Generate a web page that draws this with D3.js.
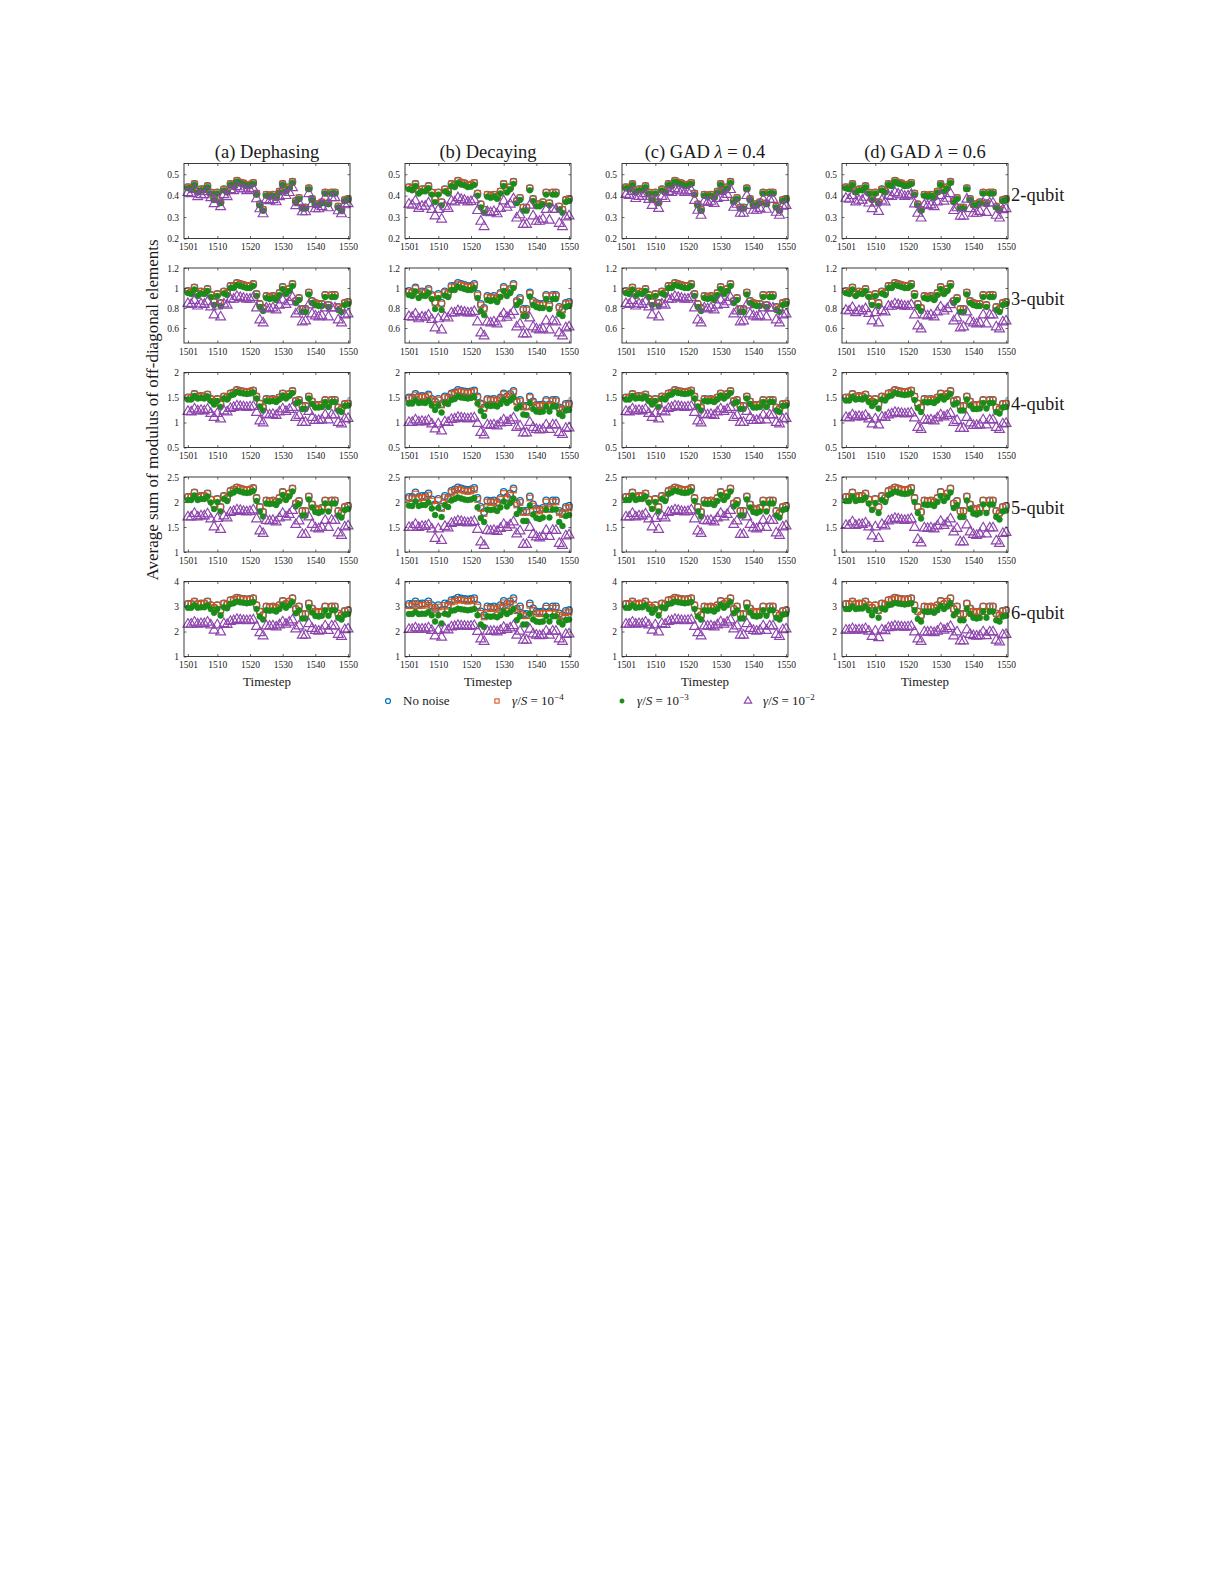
<!DOCTYPE html>
<html><head><meta charset="utf-8">
<script src="https://cdn.jsdelivr.net/npm/d3@7"></script>
<style>
body{margin:0;background:#fff}
svg{display:block}
text{font-family:"Liberation Serif","Times New Roman",serif;fill:#1a1a1a}
</style>
</head><body>
<svg id="chart" width="1225" height="1585"></svg>
<script>
// ---------------- DATA ----------------
const timesteps = [1501,1502,1503,1504,1505,1506,1507,1508,1509,1510,1511,1512,1513,1514,1515,1516,1517,1518,1519,1520,1521,1522,1523,1524,1525,1526,1527,1528,1529,1530,1531,1532,1533,1534,1535,1536,1537,1538,1539,1540,1541,1542,1543,1544,1545,1546,1547,1548,1549,1550];
const xTicks = [1501,1510,1520,1530,1540,1550];
const columnTitles = ["(a) Dephasing","(b) Decaying","(c) GAD λ = 0.4","(d) GAD λ = 0.6"];
const rowLabels = ["2-qubit","3-qubit","4-qubit","5-qubit","6-qubit"];
const yLimits = [[0.2,0.55],[0.45,1.2],[0.5,2],[1,2.5],[1,4]];
const yTicks = [[0.2,0.3,0.4,0.5],[0.6,0.8,1,1.2],[0.5,1,1.5,2],[1,1.5,2,2.5],[1,2,3,4]];
const seriesNames = ["No noise","γ/S = 10","γ/S = 10","γ/S = 10"];
const seriesExponents = ["","−4","−3","−2"];
const xLabel = "Timestep";
const yLabel = "Average sum of modulus of off-diagonal elements";

// No noise (identical for all channels)
const nn_2q = [0.440,0.435,0.455,0.420,0.430,0.430,0.445,0.415,0.385,0.415,0.370,0.430,0.420,0.455,0.450,0.470,0.462,0.458,0.450,0.452,0.460,0.410,0.360,0.335,0.405,0.400,0.405,0.395,0.420,0.455,0.425,0.440,0.465,0.375,0.390,0.345,0.345,0.435,0.385,0.360,0.360,0.370,0.415,0.365,0.415,0.415,0.350,0.335,0.380,0.385];
const nn_3q = [0.97,0.96,1.005,0.94,0.965,0.96,0.99,0.93,0.86,0.94,0.85,0.965,0.95,1.02,1.02,1.05,1.04,1.03,1.02,1.02,1.04,0.94,0.84,0.80,0.92,0.91,0.92,0.90,0.95,1.01,0.96,0.99,1.04,0.87,0.90,0.79,0.79,0.955,0.87,0.85,0.84,0.84,0.93,0.83,0.93,0.93,0.81,0.79,0.85,0.86];
const nn_4q = [1.50,1.50,1.57,1.52,1.53,1.52,1.56,1.47,1.42,1.47,1.37,1.52,1.50,1.58,1.60,1.65,1.63,1.62,1.61,1.62,1.64,1.52,1.38,1.30,1.47,1.46,1.47,1.45,1.50,1.58,1.52,1.57,1.63,1.43,1.45,1.33,1.33,1.52,1.42,1.35,1.35,1.36,1.45,1.36,1.45,1.45,1.30,1.27,1.37,1.38];
const nn_5q = [2.10,2.10,2.19,2.10,2.12,2.12,2.17,2.05,1.95,2.06,1.90,2.12,2.08,2.22,2.25,2.29,2.27,2.25,2.24,2.25,2.28,2.08,1.90,1.80,2.03,2.02,2.03,2.00,2.08,2.20,2.10,2.17,2.27,1.97,2.02,1.82,1.82,2.11,1.95,1.87,1.85,1.88,2.03,1.88,2.03,2.03,1.82,1.78,1.90,1.92];
const nn_6q = [3.10,3.10,3.20,3.10,3.12,3.12,3.20,3.05,2.95,3.05,2.85,3.12,3.08,3.25,3.28,3.35,3.32,3.30,3.28,3.30,3.33,3.05,2.80,2.65,3.00,2.98,3.00,2.95,3.05,3.22,3.10,3.20,3.33,2.90,3.00,2.70,2.70,3.12,2.92,2.80,2.78,2.80,3.00,2.80,3.00,3.00,2.72,2.65,2.82,2.85];

// (a) Dephasing
const deph_2q_e3 = [0.435,0.430,0.450,0.415,0.425,0.425,0.440,0.410,0.380,0.410,0.365,0.425,0.415,0.450,0.445,0.465,0.457,0.453,0.445,0.447,0.455,0.405,0.355,0.330,0.400,0.395,0.400,0.390,0.415,0.450,0.420,0.435,0.460,0.370,0.385,0.340,0.340,0.430,0.380,0.355,0.355,0.365,0.410,0.360,0.410,0.410,0.345,0.330,0.375,0.380];
const deph_2q_e2 = [0.414,0.409,0.428,0.395,0.404,0.404,0.418,0.390,0.362,0.390,0.348,0.404,0.395,0.428,0.423,0.442,0.434,0.431,0.423,0.425,0.432,0.385,0.338,0.315,0.381,0.376,0.381,0.371,0.395,0.428,0.400,0.414,0.437,0.353,0.367,0.324,0.324,0.409,0.362,0.338,0.338,0.348,0.390,0.343,0.390,0.390,0.329,0.315,0.357,0.362];
const deph_3q_e3 = [0.95,0.94,0.985,0.92,0.945,0.94,0.97,0.91,0.83,0.92,0.82,0.945,0.93,1.00,1.00,1.03,1.02,1.01,1.00,1.00,1.02,0.92,0.81,0.77,0.90,0.89,0.90,0.88,0.93,0.99,0.94,0.97,1.02,0.85,0.88,0.76,0.76,0.935,0.85,0.83,0.82,0.82,0.91,0.81,0.91,0.91,0.78,0.76,0.83,0.84];
const deph_3q_e2 = [0.844,0.835,0.874,0.818,0.840,0.835,0.861,0.809,0.73,0.818,0.71,0.840,0.827,0.887,0.887,0.914,0.905,0.896,0.887,0.887,0.905,0.80,0.68,0.65,0.80,0.79,0.80,0.78,0.827,0.879,0.835,0.861,0.905,0.74,0.77,0.66,0.67,0.83,0.74,0.72,0.71,0.72,0.80,0.71,0.80,0.80,0.68,0.65,0.73,0.74];
const deph_4q_e3 = [1.46,1.46,1.53,1.48,1.49,1.48,1.52,1.43,1.36,1.43,1.31,1.48,1.46,1.54,1.56,1.61,1.59,1.58,1.57,1.58,1.60,1.48,1.32,1.24,1.43,1.42,1.43,1.41,1.46,1.54,1.48,1.53,1.59,1.38,1.41,1.27,1.27,1.48,1.37,1.30,1.30,1.31,1.41,1.31,1.41,1.41,1.24,1.21,1.33,1.34];
const deph_4q_e2 = [1.22,1.21,1.27,1.23,1.24,1.23,1.26,1.18,1.10,1.18,1.07,1.23,1.21,1.28,1.30,1.33,1.32,1.31,1.30,1.31,1.32,1.20,1.03,0.99,1.16,1.15,1.16,1.14,1.21,1.27,1.22,1.26,1.30,1.10,1.14,1.00,1.00,1.22,1.10,1.04,1.04,1.05,1.15,1.05,1.15,1.15,1.00,0.97,1.07,1.08];
const deph_5q_e3 = [2.04,2.04,2.13,2.04,2.06,2.06,2.11,1.99,1.86,2.00,1.81,2.06,2.02,2.16,2.19,2.23,2.21,2.19,2.18,2.19,2.22,2.02,1.81,1.71,1.97,1.96,1.97,1.94,2.02,2.14,2.04,2.11,2.21,1.91,1.96,1.73,1.73,2.05,1.89,1.80,1.78,1.81,1.97,1.81,1.97,1.97,1.73,1.69,1.84,1.86];
const deph_5q_e2 = [1.70,1.70,1.77,1.70,1.72,1.72,1.76,1.66,1.50,1.67,1.45,1.72,1.68,1.79,1.81,1.84,1.83,1.81,1.80,1.81,1.84,1.66,1.42,1.37,1.63,1.62,1.63,1.60,1.68,1.77,1.70,1.75,1.83,1.55,1.62,1.35,1.35,1.70,1.55,1.48,1.46,1.49,1.63,1.49,1.63,1.63,1.38,1.33,1.50,1.52];
const deph_6q_e3 = [2.95,2.95,3.05,2.95,2.97,2.97,3.05,2.90,2.75,2.90,2.64,2.97,2.93,3.10,3.13,3.20,3.17,3.15,3.13,3.15,3.18,2.90,2.60,2.48,2.85,2.83,2.85,2.80,2.90,3.07,2.95,3.05,3.18,2.73,2.85,2.52,2.52,2.97,2.76,2.62,2.60,2.63,2.85,2.63,2.85,2.85,2.55,2.48,2.67,2.70];
const deph_6q_e2 = [2.29,2.29,2.37,2.29,2.31,2.31,2.37,2.26,2.05,2.26,1.98,2.31,2.28,2.40,2.43,2.48,2.46,2.44,2.43,2.44,2.46,2.20,1.95,1.82,2.22,2.21,2.22,2.18,2.26,2.38,2.29,2.37,2.46,2.10,2.22,1.85,1.85,2.31,2.12,2.04,2.01,2.04,2.22,2.04,2.22,2.22,1.88,1.80,2.07,2.10];

// (b) Decaying
const dec_2q_e3 = [0.430,0.425,0.445,0.410,0.420,0.420,0.435,0.405,0.370,0.405,0.355,0.420,0.410,0.445,0.440,0.460,0.452,0.448,0.440,0.442,0.450,0.400,0.345,0.320,0.395,0.390,0.395,0.385,0.410,0.445,0.415,0.430,0.455,0.365,0.380,0.330,0.330,0.425,0.375,0.350,0.350,0.360,0.405,0.355,0.405,0.405,0.335,0.320,0.370,0.375];
const dec_2q_e2 = [0.360,0.355,0.375,0.340,0.350,0.350,0.365,0.335,0.305,0.335,0.290,0.350,0.340,0.375,0.370,0.390,0.382,0.378,0.370,0.372,0.380,0.330,0.280,0.255,0.325,0.320,0.325,0.315,0.340,0.375,0.345,0.360,0.385,0.295,0.310,0.265,0.265,0.355,0.305,0.280,0.280,0.290,0.335,0.285,0.335,0.335,0.270,0.255,0.300,0.305];
const dec_3q_e4 = [0.96,0.95,0.995,0.93,0.955,0.95,0.98,0.92,0.85,0.93,0.84,0.955,0.94,1.01,1.01,1.04,1.03,1.02,1.01,1.01,1.03,0.93,0.83,0.79,0.91,0.90,0.91,0.89,0.94,1.00,0.95,0.98,1.03,0.86,0.89,0.78,0.78,0.945,0.86,0.84,0.83,0.83,0.92,0.82,0.92,0.92,0.80,0.78,0.84,0.85];
const dec_3q_e3 = [0.93,0.92,0.965,0.90,0.925,0.92,0.95,0.89,0.79,0.90,0.78,0.925,0.91,0.98,0.98,1.01,1.00,0.99,0.98,0.98,1.00,0.90,0.77,0.73,0.88,0.87,0.88,0.86,0.91,0.97,0.92,0.95,1.00,0.83,0.86,0.72,0.72,0.915,0.83,0.81,0.80,0.80,0.89,0.79,0.89,0.89,0.74,0.72,0.81,0.82];
const dec_3q_e2 = [0.713,0.706,0.739,0.691,0.709,0.706,0.728,0.684,0.60,0.691,0.58,0.709,0.698,0.75,0.75,0.772,0.764,0.757,0.75,0.75,0.764,0.66,0.55,0.52,0.66,0.65,0.66,0.64,0.698,0.742,0.706,0.728,0.764,0.61,0.64,0.54,0.54,0.70,0.61,0.59,0.58,0.59,0.67,0.58,0.67,0.66,0.55,0.52,0.60,0.61];
const dec_4q_e4 = [1.48,1.48,1.55,1.50,1.51,1.50,1.54,1.45,1.40,1.45,1.35,1.50,1.48,1.56,1.58,1.63,1.61,1.60,1.59,1.60,1.62,1.50,1.36,1.28,1.45,1.44,1.45,1.43,1.48,1.56,1.50,1.55,1.61,1.41,1.43,1.31,1.31,1.50,1.40,1.33,1.33,1.34,1.43,1.34,1.43,1.43,1.28,1.25,1.35,1.36];
const dec_4q_e3 = [1.38,1.38,1.44,1.39,1.40,1.39,1.43,1.34,1.25,1.34,1.20,1.39,1.37,1.45,1.47,1.52,1.50,1.49,1.48,1.49,1.51,1.38,1.23,1.13,1.34,1.33,1.34,1.32,1.37,1.45,1.39,1.44,1.50,1.28,1.32,1.16,1.15,1.39,1.27,1.22,1.21,1.22,1.32,1.22,1.32,1.32,1.17,1.13,1.24,1.25];
const dec_4q_e2 = [1.00,1.00,1.05,1.01,1.02,1.01,1.04,0.97,0.87,0.97,0.83,1.01,1.00,1.06,1.07,1.10,1.09,1.08,1.07,1.08,1.09,0.98,0.80,0.75,0.95,0.94,0.95,0.93,0.99,1.05,1.00,1.04,1.09,0.90,0.93,0.79,0.79,1.00,0.90,0.86,0.85,0.86,0.95,0.86,0.95,0.95,0.80,0.76,0.88,0.89];
const dec_5q_e4 = [2.07,2.07,2.16,2.07,2.09,2.09,2.14,2.02,1.92,2.03,1.87,2.09,2.05,2.19,2.22,2.26,2.24,2.22,2.21,2.22,2.25,2.05,1.87,1.77,2.00,1.99,2.00,1.97,2.05,2.17,2.07,2.14,2.24,1.94,1.99,1.79,1.79,2.08,1.92,1.84,1.82,1.85,2.00,1.85,2.00,2.00,1.79,1.75,1.87,1.89];
const dec_5q_e3 = [1.93,1.92,2.01,1.92,1.94,1.94,1.99,1.87,1.74,1.88,1.70,1.94,1.90,2.03,2.06,2.09,2.07,2.05,2.04,2.05,2.08,1.89,1.68,1.60,1.85,1.84,1.85,1.82,1.89,2.01,1.91,1.98,2.07,1.76,1.84,1.62,1.62,1.93,1.75,1.68,1.66,1.69,1.85,1.69,1.85,1.85,1.60,1.52,1.72,1.74];
const dec_5q_e2 = [1.49,1.49,1.55,1.49,1.51,1.51,1.54,1.46,1.27,1.46,1.23,1.51,1.48,1.57,1.59,1.62,1.61,1.59,1.58,1.59,1.61,1.45,1.20,1.13,1.43,1.42,1.43,1.41,1.47,1.55,1.49,1.54,1.60,1.36,1.42,1.15,1.15,1.49,1.35,1.30,1.28,1.31,1.43,1.31,1.43,1.43,1.17,1.13,1.32,1.34];
const dec_6q_e4 = [3.03,3.03,3.13,3.03,3.05,3.05,3.13,2.98,2.88,2.98,2.78,3.05,3.01,3.18,3.21,3.28,3.25,3.23,3.21,3.23,3.26,2.98,2.73,2.58,2.93,2.91,2.93,2.88,2.98,3.15,3.03,3.13,3.26,2.83,2.93,2.63,2.63,3.05,2.85,2.73,2.71,2.73,2.93,2.73,2.93,2.93,2.65,2.58,2.75,2.78];
const dec_6q_e3 = [2.70,2.70,2.78,2.70,2.71,2.71,2.78,2.65,2.40,2.65,2.32,2.71,2.68,2.83,2.85,2.91,2.89,2.87,2.85,2.87,2.90,2.65,2.28,2.18,2.61,2.59,2.61,2.57,2.65,2.80,2.70,2.78,2.90,2.45,2.61,2.28,2.28,2.71,2.48,2.40,2.38,2.40,2.61,2.40,2.61,2.61,2.38,2.28,2.45,2.48];
const dec_6q_e2 = [2.08,2.08,2.14,2.08,2.09,2.09,2.14,2.04,1.82,2.04,1.77,2.09,2.06,2.18,2.20,2.24,2.22,2.21,2.20,2.21,2.23,2.00,1.70,1.60,2.01,2.00,2.01,1.98,2.04,2.16,2.08,2.14,2.23,1.85,2.01,1.65,1.65,2.09,1.90,1.85,1.83,1.85,2.01,1.85,2.01,2.01,1.70,1.60,1.88,1.90];

// (c) GAD lambda = 0.4 (2-qubit triangles differ; other rows read the same as dephasing)
const gad4_2q_e2 = [0.405,0.400,0.419,0.386,0.396,0.396,0.409,0.382,0.354,0.382,0.340,0.396,0.386,0.419,0.414,0.432,0.425,0.421,0.414,0.416,0.423,0.377,0.331,0.308,0.373,0.368,0.373,0.363,0.386,0.419,0.391,0.405,0.428,0.345,0.359,0.317,0.317,0.400,0.354,0.331,0.331,0.340,0.382,0.336,0.382,0.382,0.322,0.308,0.350,0.354];

// (d) GAD lambda = 0.6
const gad6_2q_e2 = [0.387,0.383,0.400,0.370,0.378,0.378,0.392,0.365,0.339,0.365,0.326,0.378,0.370,0.400,0.396,0.414,0.407,0.403,0.396,0.398,0.405,0.361,0.317,0.295,0.356,0.352,0.356,0.348,0.370,0.400,0.374,0.387,0.409,0.330,0.343,0.304,0.304,0.383,0.339,0.317,0.317,0.326,0.365,0.321,0.365,0.365,0.308,0.295,0.334,0.339];
const gad6_3q_e2 = [0.776,0.768,0.804,0.752,0.772,0.768,0.792,0.744,0.67,0.752,0.65,0.772,0.76,0.816,0.816,0.84,0.832,0.824,0.816,0.816,0.832,0.73,0.62,0.59,0.73,0.72,0.73,0.71,0.76,0.808,0.768,0.792,0.832,0.67,0.70,0.60,0.61,0.76,0.67,0.65,0.64,0.65,0.73,0.64,0.73,0.73,0.61,0.59,0.66,0.67];
const gad6_4q_e3 = [1.44,1.44,1.51,1.46,1.47,1.46,1.50,1.41,1.33,1.41,1.28,1.46,1.44,1.52,1.54,1.59,1.57,1.56,1.55,1.56,1.58,1.45,1.29,1.21,1.41,1.40,1.41,1.39,1.44,1.52,1.46,1.51,1.57,1.36,1.39,1.24,1.24,1.46,1.34,1.27,1.27,1.28,1.39,1.28,1.39,1.39,1.21,1.18,1.30,1.31];
const gad6_4q_e2 = [1.10,1.09,1.15,1.11,1.12,1.11,1.14,1.07,0.97,1.07,0.95,1.11,1.10,1.15,1.17,1.20,1.19,1.18,1.17,1.18,1.19,1.09,0.90,0.86,1.05,1.04,1.05,1.03,1.09,1.15,1.11,1.14,1.18,1.00,1.04,0.88,0.88,1.10,0.99,0.94,0.94,0.95,1.05,0.95,1.05,1.05,0.90,0.86,0.97,0.98];
const gad6_5q_e3 = [2.02,2.02,2.11,2.02,2.04,2.04,2.09,1.97,1.84,1.98,1.78,2.04,2.00,2.14,2.17,2.21,2.19,2.17,2.16,2.17,2.20,2.00,1.78,1.67,1.95,1.94,1.95,1.92,2.00,2.12,2.02,2.09,2.19,1.88,1.94,1.70,1.70,2.03,1.86,1.77,1.75,1.78,1.95,1.78,1.95,1.95,1.70,1.65,1.81,1.83];
const gad6_5q_e2 = [1.53,1.53,1.60,1.53,1.55,1.55,1.58,1.50,1.32,1.50,1.27,1.55,1.52,1.62,1.64,1.67,1.66,1.64,1.63,1.64,1.66,1.49,1.25,1.18,1.48,1.47,1.48,1.46,1.52,1.61,1.53,1.58,1.66,1.40,1.47,1.20,1.20,1.54,1.40,1.35,1.33,1.36,1.48,1.36,1.48,1.48,1.22,1.17,1.37,1.39];
const gad6_6q_e3 = [2.90,2.90,3.00,2.90,2.92,2.92,3.00,2.85,2.65,2.85,2.55,2.92,2.88,3.05,3.08,3.15,3.12,3.10,3.08,3.10,3.13,2.85,2.50,2.40,2.80,2.78,2.80,2.75,2.85,3.02,2.90,3.00,3.13,2.65,2.80,2.45,2.45,2.92,2.70,2.55,2.52,2.55,2.80,2.55,2.80,2.80,2.45,2.40,2.60,2.63];
const gad6_6q_e2 = [2.05,2.05,2.11,2.05,2.06,2.06,2.11,2.01,1.80,2.01,1.75,2.06,2.03,2.15,2.17,2.21,2.19,2.18,2.17,2.18,2.20,1.98,1.70,1.60,1.98,1.97,1.98,1.95,2.01,2.13,2.05,2.11,2.20,1.82,1.98,1.62,1.62,2.06,1.88,1.83,1.81,1.83,1.98,1.83,1.98,1.98,1.65,1.58,1.86,1.88];

// panel table [row][col] -> series in plotting order (no noise, 1e-4, 1e-3, 1e-2)
const panelSeries = [
  [[nn_2q,nn_2q,deph_2q_e3,deph_2q_e2],[nn_2q,nn_2q,dec_2q_e3,dec_2q_e2],[nn_2q,nn_2q,deph_2q_e3,gad4_2q_e2],[nn_2q,nn_2q,deph_2q_e3,gad6_2q_e2]],
  [[nn_3q,nn_3q,deph_3q_e3,deph_3q_e2],[nn_3q,dec_3q_e4,dec_3q_e3,dec_3q_e2],[nn_3q,nn_3q,deph_3q_e3,deph_3q_e2],[nn_3q,nn_3q,deph_3q_e3,gad6_3q_e2]],
  [[nn_4q,nn_4q,deph_4q_e3,deph_4q_e2],[nn_4q,dec_4q_e4,dec_4q_e3,dec_4q_e2],[nn_4q,nn_4q,deph_4q_e3,deph_4q_e2],[nn_4q,nn_4q,gad6_4q_e3,gad6_4q_e2]],
  [[nn_5q,nn_5q,deph_5q_e3,deph_5q_e2],[nn_5q,dec_5q_e4,dec_5q_e3,dec_5q_e2],[nn_5q,nn_5q,deph_5q_e3,deph_5q_e2],[nn_5q,nn_5q,gad6_5q_e3,gad6_5q_e2]],
  [[nn_6q,nn_6q,deph_6q_e3,deph_6q_e2],[nn_6q,dec_6q_e4,dec_6q_e3,dec_6q_e2],[nn_6q,nn_6q,deph_6q_e3,deph_6q_e2],[nn_6q,nn_6q,gad6_6q_e3,gad6_6q_e2]]
];

// ---------------- LAYOUT / STYLE ----------------
const colLeft = [184, 405, 622, 842];
const rowTop = [163.5, 268, 372.5, 477, 581.5];
const panelW = 166, panelH = 75;
const colors = ["#0072BD", "#D95319", "#1a8c1a", "#8E44AD"];
const axisColor = "#262626";
const tickFont = 9.5;

const svg = d3.select("#chart");

function drawMarker(g, type, x, y, scale) {
  const s = scale || 1;
  if (type === 0) {
    g.append("circle").attr("cx", x).attr("cy", y).attr("r", 3.3 * s)
      .attr("fill", "none").attr("stroke", colors[0]).attr("stroke-width", 1.2);
  } else if (type === 1) {
    const h = 2.8 * s;
    g.append("rect").attr("x", x - h).attr("y", y - h).attr("width", 2 * h).attr("height", 2 * h)
      .attr("fill", "none").attr("stroke", colors[1]).attr("stroke-width", 1.1);
  } else if (type === 2) {
    g.append("circle").attr("cx", x).attr("cy", y).attr("r", 2.9 * s)
      .attr("fill", colors[2]).attr("stroke", colors[2]).attr("stroke-width", 0.6);
  } else {
    g.append("path").attr("transform", `translate(${x},${y})`)
      .attr("d", d3.symbol().type(d3.symbolTriangle).size(42 * s * s)())
      .attr("fill", "none").attr("stroke", colors[3]).attr("stroke-width", 1.15);
  }
}

columnTitles.forEach((t, c) => {
  const parts = t.split("λ");
  const txt = svg.append("text")
    .attr("x", colLeft[c] + panelW / 2).attr("y", 158)
    .attr("text-anchor", "middle").attr("font-size", 18.5);
  txt.append("tspan").text(parts[0]);
  if (parts.length > 1) {
    txt.append("tspan").attr("font-style", "italic").text("λ");
    txt.append("tspan").text(parts[1]);
  }
});

for (let r = 0; r < 5; r++) {
  for (let c = 0; c < 4; c++) {
    const x = d3.scaleLinear().domain([1499.8, 1550.6]).range([colLeft[c], colLeft[c] + panelW]);
    const y = d3.scaleLinear().domain(yLimits[r]).range([rowTop[r] + panelH, rowTop[r]]);
    const g = svg.append("g");

    panelSeries[r][c].forEach((series, si) => {
      const sg = g.append("g");
      series.forEach((v, i) => drawMarker(sg, si, x(timesteps[i]), y(v)));
    });

    const xb = g.append("g").attr("transform", `translate(0,${rowTop[r] + panelH})`)
      .call(d3.axisBottom(x).tickValues(xTicks).tickFormat(d3.format("d")).tickSizeInner(-2.5).tickSizeOuter(0).tickPadding(5));
    const xt = g.append("g").attr("transform", `translate(0,${rowTop[r]})`)
      .call(d3.axisTop(x).tickValues(xTicks).tickFormat("").tickSizeInner(-2.5).tickSizeOuter(0));
    const yl = g.append("g").attr("transform", `translate(${colLeft[c]},0)`)
      .call(d3.axisLeft(y).tickValues(yTicks[r]).tickFormat(d => String(d)).tickSizeInner(-2.5).tickSizeOuter(0).tickPadding(5));
    const yr = g.append("g").attr("transform", `translate(${colLeft[c] + panelW},0)`)
      .call(d3.axisRight(y).tickValues(yTicks[r]).tickFormat("").tickSizeInner(-2.5).tickSizeOuter(0));
    [xb, xt, yl, yr].forEach(a => {
      a.select(".domain").remove();
      a.selectAll("line").attr("stroke", axisColor).attr("stroke-width", 0.7);
      a.selectAll("text").attr("font-size", tickFont).attr("fill", axisColor)
        .attr("font-family", "Liberation Serif, serif");
    });
    g.append("rect").attr("x", colLeft[c]).attr("y", rowTop[r])
      .attr("width", panelW).attr("height", panelH)
      .attr("fill", "none").attr("stroke", axisColor).attr("stroke-width", 0.9);

    if (r === 4) {
      g.append("text").attr("x", colLeft[c] + panelW / 2).attr("y", 686)
        .attr("text-anchor", "middle").attr("font-size", 13).text(xLabel);
    }
  }
  svg.append("text").attr("x", 1011).attr("y", rowTop[r] + panelH / 2 - 0.5)
    .attr("font-size", 18.5).text(rowLabels[r]);
}

svg.append("text")
  .attr("transform", "translate(158,410) rotate(-90)")
  .attr("text-anchor", "middle").attr("font-size", 17).text(yLabel);

// legend
const legendX = [388, 497, 622, 748];
const lg = svg.append("g");
seriesNames.forEach((name, i) => {
  drawMarker(lg, i, legendX[i], 701, 0.75);
  const t = lg.append("text").attr("x", legendX[i] + 15).attr("y", 705).attr("font-size", 13);
  if (i === 0) {
    t.text(name);
  } else {
    t.append("tspan").attr("font-style", "italic").text("γ");
    t.append("tspan").text("/");
    t.append("tspan").attr("font-style", "italic").text("S");
    t.append("tspan").text(" = 10");
    t.append("tspan").attr("dy", -5).attr("font-size", 9).text(seriesExponents[i]);
  }
});
</script>
</body></html>
